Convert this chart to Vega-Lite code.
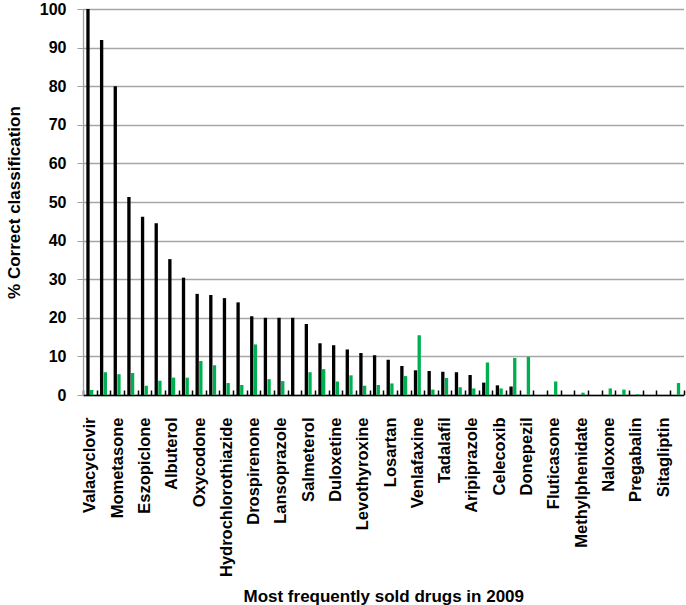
{
  "$schema": "https://vega.github.io/schema/vega-lite/v6.json",
  "width": 686,
  "height": 605,
  "autosize": {"type": "fit", "contains": "padding"},
  "padding": {"left": 5, "top": 1, "right": 1.5, "bottom": 0},
  "background": "white",
  "config": {
    "font": "Liberation Sans",
    "view": {"stroke": null}
  },
  "data": {
    "values": [
      {"drug": "Valacyclovir", "series": "Series 1", "value": 100},
      {"drug": "Valacyclovir", "series": "Series 2", "value": 1.3},
      {"drug": "(unlabeled 2)", "series": "Series 1", "value": 92},
      {"drug": "(unlabeled 2)", "series": "Series 2", "value": 5.9},
      {"drug": "Mometasone", "series": "Series 1", "value": 80},
      {"drug": "Mometasone", "series": "Series 2", "value": 5.4},
      {"drug": "(unlabeled 4)", "series": "Series 1", "value": 51.3},
      {"drug": "(unlabeled 4)", "series": "Series 2", "value": 5.7},
      {"drug": "Eszopiclone", "series": "Series 1", "value": 46.2},
      {"drug": "Eszopiclone", "series": "Series 2", "value": 2.4},
      {"drug": "(unlabeled 6)", "series": "Series 1", "value": 44.5},
      {"drug": "(unlabeled 6)", "series": "Series 2", "value": 3.7},
      {"drug": "Albuterol", "series": "Series 1", "value": 35.2},
      {"drug": "Albuterol", "series": "Series 2", "value": 4.5},
      {"drug": "(unlabeled 8)", "series": "Series 1", "value": 30.4},
      {"drug": "(unlabeled 8)", "series": "Series 2", "value": 4.5},
      {"drug": "Oxycodone", "series": "Series 1", "value": 26.2},
      {"drug": "Oxycodone", "series": "Series 2", "value": 8.8},
      {"drug": "(unlabeled 10)", "series": "Series 1", "value": 25.9},
      {"drug": "(unlabeled 10)", "series": "Series 2", "value": 7.7},
      {"drug": "Hydrochlorothiazide", "series": "Series 1", "value": 25.1},
      {"drug": "Hydrochlorothiazide", "series": "Series 2", "value": 3.1},
      {"drug": "(unlabeled 12)", "series": "Series 1", "value": 24.0},
      {"drug": "(unlabeled 12)", "series": "Series 2", "value": 2.6},
      {"drug": "Drospirenone", "series": "Series 1", "value": 20.4},
      {"drug": "Drospirenone", "series": "Series 2", "value": 13.1},
      {"drug": "(unlabeled 14)", "series": "Series 1", "value": 20.0},
      {"drug": "(unlabeled 14)", "series": "Series 2", "value": 4.1},
      {"drug": "Lansoprazole", "series": "Series 1", "value": 20.0},
      {"drug": "Lansoprazole", "series": "Series 2", "value": 3.6},
      {"drug": "(unlabeled 16)", "series": "Series 1", "value": 20.0},
      {"drug": "(unlabeled 16)", "series": "Series 2", "value": 0},
      {"drug": "Salmeterol", "series": "Series 1", "value": 18.4},
      {"drug": "Salmeterol", "series": "Series 2", "value": 5.9},
      {"drug": "(unlabeled 18)", "series": "Series 1", "value": 13.4},
      {"drug": "(unlabeled 18)", "series": "Series 2", "value": 6.7},
      {"drug": "Duloxetine", "series": "Series 1", "value": 12.9},
      {"drug": "Duloxetine", "series": "Series 2", "value": 3.5},
      {"drug": "(unlabeled 20)", "series": "Series 1", "value": 11.8},
      {"drug": "(unlabeled 20)", "series": "Series 2", "value": 5.1},
      {"drug": "Levothyroxine", "series": "Series 1", "value": 10.9},
      {"drug": "Levothyroxine", "series": "Series 2", "value": 2.4},
      {"drug": "(unlabeled 22)", "series": "Series 1", "value": 10.3},
      {"drug": "(unlabeled 22)", "series": "Series 2", "value": 2.6},
      {"drug": "Losartan", "series": "Series 1", "value": 9.1},
      {"drug": "Losartan", "series": "Series 2", "value": 3.0},
      {"drug": "(unlabeled 24)", "series": "Series 1", "value": 7.5},
      {"drug": "(unlabeled 24)", "series": "Series 2", "value": 4.9},
      {"drug": "Venlafaxine", "series": "Series 1", "value": 6.4},
      {"drug": "Venlafaxine", "series": "Series 2", "value": 15.5},
      {"drug": "(unlabeled 26)", "series": "Series 1", "value": 6.2},
      {"drug": "(unlabeled 26)", "series": "Series 2", "value": 1.4},
      {"drug": "Tadalafil", "series": "Series 1", "value": 6.0},
      {"drug": "Tadalafil", "series": "Series 2", "value": 4.4},
      {"drug": "(unlabeled 28)", "series": "Series 1", "value": 5.9},
      {"drug": "(unlabeled 28)", "series": "Series 2", "value": 2.0},
      {"drug": "Aripiprazole", "series": "Series 1", "value": 5.2},
      {"drug": "Aripiprazole", "series": "Series 2", "value": 1.7},
      {"drug": "(unlabeled 30)", "series": "Series 1", "value": 3.2},
      {"drug": "(unlabeled 30)", "series": "Series 2", "value": 8.4},
      {"drug": "Celecoxib", "series": "Series 1", "value": 2.5},
      {"drug": "Celecoxib", "series": "Series 2", "value": 1.7},
      {"drug": "(unlabeled 32)", "series": "Series 1", "value": 2.2},
      {"drug": "(unlabeled 32)", "series": "Series 2", "value": 9.6},
      {"drug": "Donepezil", "series": "Series 1", "value": 0},
      {"drug": "Donepezil", "series": "Series 2", "value": 9.9},
      {"drug": "(unlabeled 34)", "series": "Series 1", "value": 0},
      {"drug": "(unlabeled 34)", "series": "Series 2", "value": 0},
      {"drug": "Fluticasone", "series": "Series 1", "value": 0},
      {"drug": "Fluticasone", "series": "Series 2", "value": 3.5},
      {"drug": "(unlabeled 36)", "series": "Series 1", "value": 0},
      {"drug": "(unlabeled 36)", "series": "Series 2", "value": 0},
      {"drug": "Methylphenidate", "series": "Series 1", "value": 0},
      {"drug": "Methylphenidate", "series": "Series 2", "value": 0.6},
      {"drug": "(unlabeled 38)", "series": "Series 1", "value": 0},
      {"drug": "(unlabeled 38)", "series": "Series 2", "value": 0},
      {"drug": "Naloxone", "series": "Series 1", "value": 0},
      {"drug": "Naloxone", "series": "Series 2", "value": 1.7},
      {"drug": "(unlabeled 40)", "series": "Series 1", "value": 0},
      {"drug": "(unlabeled 40)", "series": "Series 2", "value": 1.4},
      {"drug": "Pregabalin", "series": "Series 1", "value": 0},
      {"drug": "Pregabalin", "series": "Series 2", "value": 0.2},
      {"drug": "(unlabeled 42)", "series": "Series 1", "value": 0},
      {"drug": "(unlabeled 42)", "series": "Series 2", "value": 0},
      {"drug": "Sitagliptin", "series": "Series 1", "value": 0},
      {"drug": "Sitagliptin", "series": "Series 2", "value": 0},
      {"drug": "(unlabeled 44)", "series": "Series 1", "value": 0},
      {"drug": "(unlabeled 44)", "series": "Series 2", "value": 3.1}
    ]
  },
  "mark": {"type": "bar"},
  "encoding": {
    "x": {
      "field": "drug",
      "type": "nominal",
      "sort": null,
      "scale": {"paddingInner": 0, "paddingOuter": 0},
      "axis": {
        "title": "Most frequently sold drugs in 2009",
        "titleFontSize": 17,
        "titleFontWeight": "bold",
        "titleColor": "black",
        "titlePadding": 12,
        "labelExpr": "isString(datum.value) ? (indexof(datum.value, '(unlabeled') === 0 ? '' : datum.value) : ''",
        "labelAngle": -90,
        "labelAlign": "right",
        "labelBaseline": "middle",
        "labelFontSize": 16.5,
        "labelFontWeight": "bold",
        "labelColor": "black",
        "labelOverlap": false,
        "labelLimit": 0,
        "labelPadding": 27,
        "tickBand": "extent",
        "tickSize": -5,
        "tickColor": "black",
        "tickWidth": 1.5,
        "domainColor": "black",
        "domainWidth": 1.5,
        "grid": false
      }
    },
    "xOffset": {
      "field": "series",
      "type": "nominal",
      "scale": {"paddingInner": 0.1, "paddingOuter": 0.9}
    },
    "y": {
      "field": "value",
      "type": "quantitative",
      "scale": {"domain": [0, 100], "nice": false},
      "axis": {
        "title": "% Correct classification",
        "titleFontSize": 17,
        "titleFontWeight": "bold",
        "titleColor": "black",
        "titlePadding": 16,
        "values": [0, 10, 20, 30, 40, 50, 60, 70, 80, 90, 100],
        "labelFontSize": 16,
        "labelFontWeight": "bold",
        "labelColor": "black",
        "labelPadding": 11,
        "tickSize": 6,
        "tickColor": "#a0a0a0",
        "domainColor": "#a0a0a0",
        "domainWidth": 1.3,
        "gridColor": "#a6a6a6",
        "gridWidth": 1.3
      }
    },
    "color": {
      "field": "series",
      "type": "nominal",
      "scale": {"domain": ["Series 1", "Series 2"], "range": ["#000000", "#00b050"]},
      "legend": null
    }
  }
}
